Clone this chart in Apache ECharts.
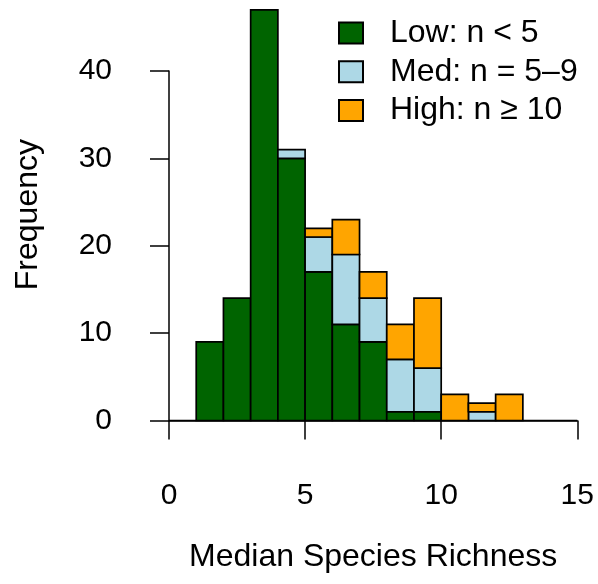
<!DOCTYPE html>
<html>
<head>
<meta charset="utf-8">
<script src="https://cdn.jsdelivr.net/npm/echarts@6/dist/echarts.min.js"></script>
<style>
  html, body { margin: 0; padding: 0; background: #fff; }
  #chart { width: 598px; height: 584px; }
</style>
</head>
<body>
<div id="chart"></div>
<script>
// Histogram bins (width 1) of median species richness, split by sample size group
const binStarts = [0, 1, 2, 3, 4, 5, 6, 7, 8, 9, 10, 11, 12, 13, 14];
const binWidth = 1;
const lowCounts  = [0, 9, 14, 47, 30, 17, 11, 9, 1, 1, 0, 0, 0, 0, 0];
const medCounts  = [0, 0, 0, 0, 1, 4, 8, 5, 6, 5, 0, 1, 0, 0, 0];
const highCounts = [0, 0, 0, 0, 0, 1, 4, 3, 4, 8, 3, 1, 3, 0, 0];
const groupNames = ['Low: n < 5', 'Med: n = 5\u20139', 'High: n \u2265 10'];
const groupColors = ['#006400', '#ADD8E6', '#FFA500'];
const xTicks = [0, 5, 10, 15];
const yTicks = [0, 10, 20, 30, 40];

const FONT = 'Liberation Sans, Arial, Helvetica, sans-serif';
const TICK_FS = 30;
const LABEL_FS = 32;

// Build stacked segments [x0, x1, base, top] for each group
const groups = [lowCounts, medCounts, highCounts];
const segments = groups.map((counts, g) => {
  const out = [];
  counts.forEach((c, i) => {
    let base = 0;
    for (let k = 0; k < g; k++) base += groups[k][i];
    if (c > 0) out.push([binStarts[i], binStarts[i] + binWidth, base, base + c]);
  });
  return out;
});

function rectRenderer(color) {
  return function (params, api) {
    const p0 = api.coord([api.value(0), api.value(3)]);
    const p1 = api.coord([api.value(1), api.value(2)]);
    return {
      type: 'rect',
      shape: { x: p0[0], y: p0[1], width: p1[0] - p0[0], height: p1[1] - p0[1] },
      style: { fill: color, stroke: '#000', lineWidth: 1.7 }
    };
  };
}

const series = groupNames.map((name, g) => ({
  name: name,
  type: 'custom',
  clip: false,
  itemStyle: { color: groupColors[g], borderColor: '#000', borderWidth: 1.3 },
  encode: { x: [0, 1], y: [2, 3] },
  data: segments[g],
  renderItem: rectRenderer(groupColors[g]),
  z: 3
}));

// Zero baseline spanning the whole bin range
series.unshift({
  type: 'custom',
  clip: false,
  silent: true,
  encode: { x: [0, 1], y: [2, 2] },
  data: [[binStarts[0], binStarts[binStarts.length - 1] + binWidth, 0]],
  renderItem: function (params, api) {
    const a = api.coord([api.value(0), api.value(2)]);
    const b = api.coord([api.value(1), api.value(2)]);
    return {
      type: 'line',
      shape: { x1: a[0], y1: a[1], x2: b[0], y2: b[1] },
      style: { stroke: '#000', lineWidth: 1.7 }
    };
  },
  z: 2
});

const chart = echarts.init(document.getElementById('chart'), null, { renderer: 'canvas' });
chart.setOption({
  animation: false,
  backgroundColor: '#fff',
  textStyle: { fontFamily: FONT, color: '#000' },
  grid: { left: 169, right: 20.7, top: 71, bottom: 163.5 },
  xAxis: {
    type: 'value',
    min: xTicks[0],
    max: xTicks[xTicks.length - 1],
    interval: 5,
    offset: 17.2,
    splitLine: { show: false },
    axisLine: { show: true, lineStyle: { color: '#000', width: 1.5 } },
    axisTick: { show: true, length: 19, lineStyle: { color: '#000', width: 1.5 } },
    axisLabel: { fontSize: TICK_FS, fontFamily: FONT, color: '#000', margin: 43 },
    name: 'Median Species Richness',
    nameLocation: 'middle',
    nameGap: 103,
    nameTextStyle: { fontSize: LABEL_FS, fontFamily: FONT, color: '#000' }
  },
  yAxis: {
    type: 'value',
    min: yTicks[0],
    max: yTicks[yTicks.length - 1],
    interval: 10,
    offset: 17,
    splitLine: { show: false },
    axisLine: { show: true, lineStyle: { color: '#000', width: 1.5 } },
    axisTick: { show: true, length: 19, lineStyle: { color: '#000', width: 1.5 } },
    axisLabel: { fontSize: TICK_FS, fontFamily: FONT, color: '#000', margin: 40 }
  },
  legend: {
    data: groupNames,
    orient: 'vertical',
    left: 338,
    top: 17,
    padding: 0,
    itemWidth: 24,
    itemHeight: 21,
    itemGap: 6.7,
    icon: 'rect',
    selectedMode: false,
    textStyle: {
      fontSize: LABEL_FS, fontFamily: FONT, color: '#000',
      lineHeight: 32, padding: [0, 0, 0, 22]
    }
  },
  graphic: [{
    type: 'text',
    left: 12,
    top: 139,
    rotation: Math.PI / 2,
    style: { text: 'Frequency', font: LABEL_FS + 'px ' + FONT, fill: '#000' }
  }],
  series: series
});
</script>
</body>
</html>
